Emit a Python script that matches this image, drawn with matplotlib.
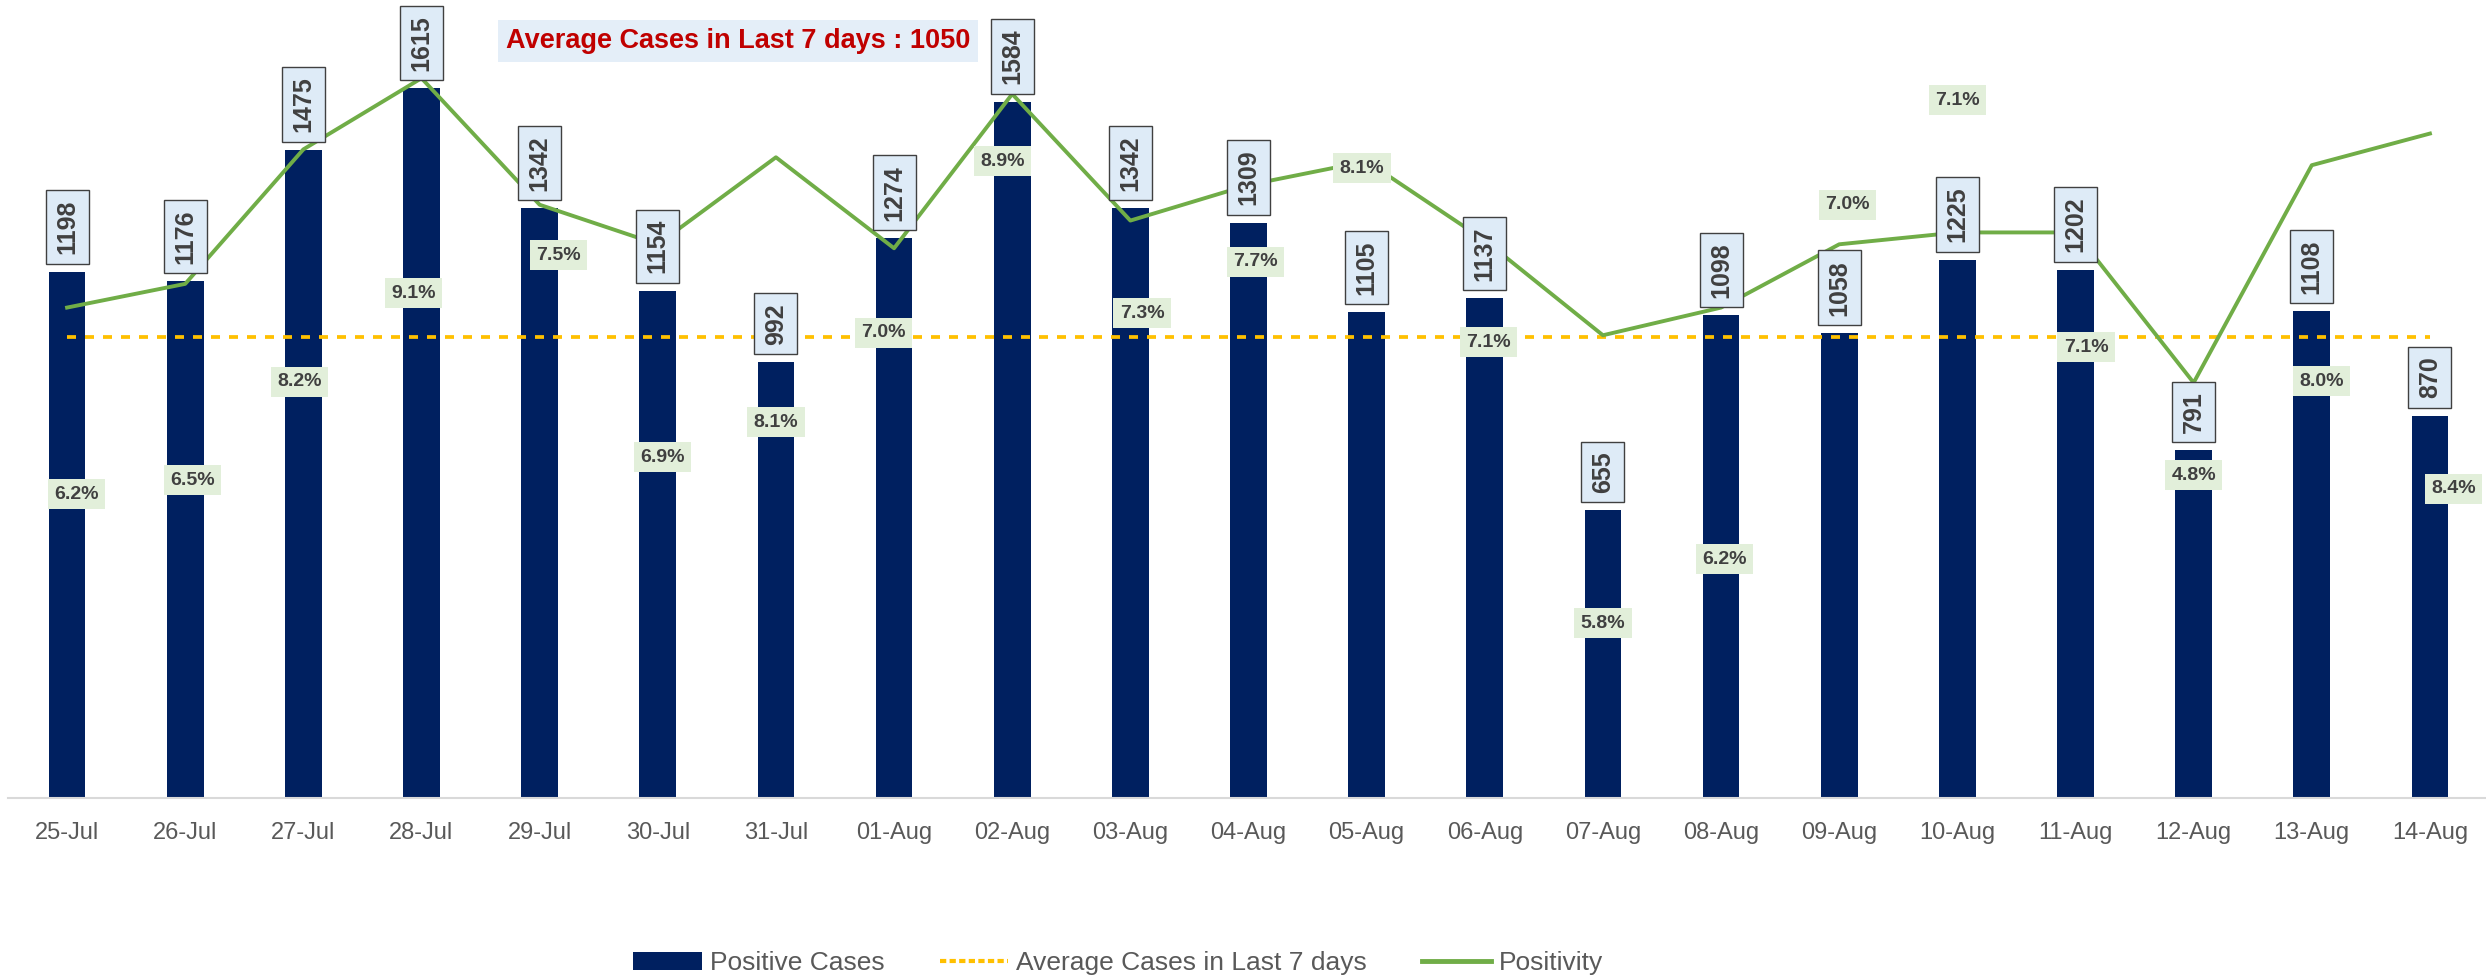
import matplotlib
matplotlib.use("Agg")
import matplotlib.pyplot as plt
from matplotlib.lines import Line2D
from matplotlib.patches import Patch

plt.rcParams['font.family'] = ['Liberation Sans', 'DejaVu Sans']

# data
dates = ['25-Jul', '26-Jul', '27-Jul', '28-Jul', '29-Jul', '30-Jul', '31-Jul',
         '01-Aug', '02-Aug', '03-Aug', '04-Aug', '05-Aug', '06-Aug', '07-Aug',
         '08-Aug', '09-Aug', '10-Aug', '11-Aug', '12-Aug', '13-Aug', '14-Aug']
cases = [1198, 1176, 1475, 1615, 1342, 1154, 992, 1274, 1584, 1342, 1309,
         1105, 1137, 655, 1098, 1058, 1225, 1202, 791, 1108, 870]
avg_7day = 1050
# positivity in %, as drawn by the line
positivity = [6.2, 6.5, 8.2, 9.1, 7.5, 7.0, 8.1, 6.95, 8.9, 7.3, 7.75,
              8.05, 7.05, 5.85, 6.2, 7.0, 7.15, 7.15, 5.25, 8.0, 8.4]
# positivity labels as printed on the chart
positivity_labels = ['6.2%', '6.5%', '8.2%', '9.1%', '7.5%', '6.9%', '8.1%',
                     '7.0%', '8.9%', '7.3%', '7.7%', '8.1%', '7.1%', '5.8%',
                     '6.2%', '7.0%', '7.1%', '7.1%', '4.8%', '8.0%', '8.4%']

# where the positivity labels sit (layout only): x shift, height on % axis
lab_dx = [0.08, 0.06, -0.03, -0.07, 0.16, 0.04, 0.0, -0.09, -0.08, 0.10, 0.06,
          -0.04, 0.03, 0.0, 0.03, 0.07, 0.0, 0.09, 0.0, 0.08, 0.2]
lab_y = [3.84, 4.02, 5.26, 6.38, 6.86, 4.31, 4.75, 5.88, 8.05, 6.13, 6.78,
         7.96, 5.76, 2.21, 3.02, 7.50, 8.82, 5.70, 4.08, 5.27, 3.91]

navy = '#002060'
green = '#70AD47'
orange = '#FFC000'
grey_txt = '#595959'

fig = plt.figure(figsize=(24.86, 9.8), dpi=100)
ax = fig.add_axes([8 / 2486, 182 / 980, 2481 / 2486, 791 / 980])
x = list(range(len(dates)))

ax.bar(x, cases, width=0.31, color=navy, zorder=2)
ax.plot(x, [avg_7day] * len(x), color=orange, lw=2.7,
        linestyle=(0, (2.4, 2.4)), zorder=3)

ax.set_xlim(-0.5, len(dates) - 0.5)
ax.set_ylim(0, 1800)
ax.set_yticks([])
ax.set_xticks(x)
ax.set_xticklabels(dates, fontsize=17, color=grey_txt)
ax.tick_params(axis='x', length=0, pad=17.5)
for s in ['top', 'right', 'left']:
    ax.spines[s].set_visible(False)
ax.spines['bottom'].set_color('#D9D9D9')
ax.spines['bottom'].set_linewidth(1.5)

# secondary axis for positivity
ax2 = ax.twinx()
ax2.set_ylim(0, 10)
ax2.axis('off')
ax2.plot(x, positivity, color=green, lw=2.8, zorder=3)

# case labels above bars
for i, v in enumerate(cases):
    ax2.annotate(str(v), xy=(i, v), xycoords=ax.transData,
                 xytext=(0, 12.6), textcoords='offset points',
                 rotation=90, ha='center', va='bottom',
                 fontsize=18, fontweight='bold', color='#404040', zorder=5,
                 bbox=dict(boxstyle='square,pad=0.38', fc='#DEEBF7',
                           ec='#404040', lw=1.0))

# positivity labels
for i, t in enumerate(positivity_labels):
    ax2.text(i + lab_dx[i], lab_y[i], t, ha='center', va='center',
             fontsize=14, fontweight='bold', color='#404040', zorder=6,
             bbox=dict(boxstyle='square,pad=0.33', fc='#E2EFDA', ec='none'))

fig.text(738 / 2486, 1 - 41 / 980, f'Average Cases in Last 7 days : {avg_7day}',
         ha='center', va='center', fontsize=19.5, fontweight='bold',
         color='#C00000',
         bbox=dict(boxstyle='square,pad=0.3', fc='#E4EEF8', ec='none'))

handles = [Patch(facecolor=navy),
           Line2D([0], [0], color=orange, lw=3, linestyle=(0, (1.5, 0.8))),
           Line2D([0], [0], color=green, lw=3.5)]
leg = fig.legend(handles, ['Positive Cases', 'Average Cases in Last 7 days', 'Positivity'],
                 loc='center', bbox_to_anchor=(1118 / 2486, 1 - 963 / 980),
                 ncol=3, frameon=False, fontsize=19, handlelength=2.6,
                 handleheight=0.68, handletextpad=0.3, columnspacing=2.1)
for t in leg.get_texts():
    t.set_color(grey_txt)

fig.savefig('out.png', dpi=100)
